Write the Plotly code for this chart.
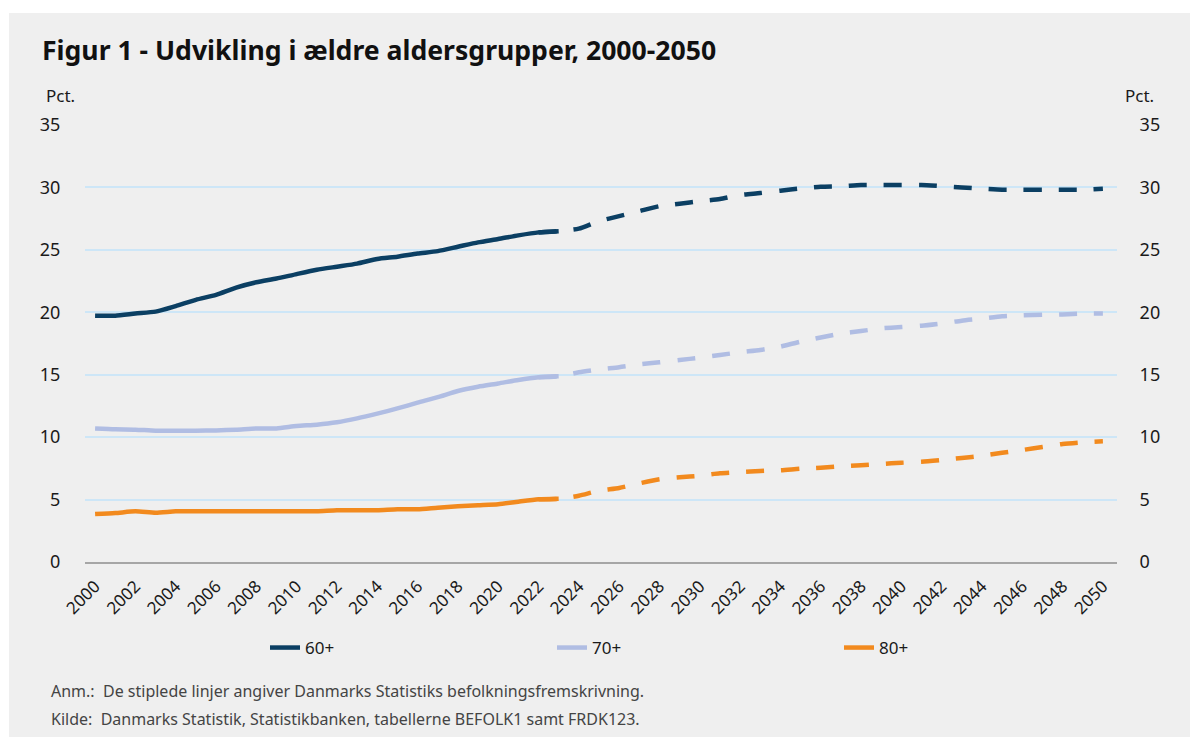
import plotly.graph_objects as go

# ---- data -------------------------------------------------------------
years_hist = list(range(2000, 2024))
years_proj = list(range(2022, 2051))

age60_hist = [19.73, 19.73, 19.9, 20.05, 20.5, 21.0, 21.4, 21.97, 22.4, 22.7,
              23.06, 23.4, 23.65, 23.9, 24.27, 24.45, 24.7, 24.9, 25.25, 25.6,
              25.87, 26.16, 26.4, 26.5]
age60_proj = [26.4, 26.5, 26.7, 27.3, 27.7, 28.1, 28.5, 28.7, 28.9, 29.07,
              29.4, 29.55, 29.74, 29.92, 30.06, 30.1, 30.2, 30.2, 30.2, 30.2,
              30.1, 30.0, 29.9, 29.82, 29.82, 29.82, 29.82, 29.82, 29.9]

age70_hist = [10.7, 10.63, 10.6, 10.52, 10.52, 10.52, 10.54, 10.6, 10.7, 10.7,
              10.89, 11.0, 11.19, 11.5, 11.88, 12.3, 12.76, 13.2, 13.7, 14.04,
              14.3, 14.58, 14.79, 14.87]
age70_proj = [14.79, 14.87, 15.19, 15.43, 15.6, 15.83, 15.99, 16.18, 16.36, 16.58,
              16.8, 16.98, 17.25, 17.65, 17.98, 18.29, 18.5, 18.71, 18.82, 18.93,
              19.11, 19.33, 19.49, 19.68, 19.76, 19.81, 19.83, 19.89, 19.9]

age80_hist = [3.84, 3.92, 4.06, 3.95, 4.06, 4.06, 4.06, 4.06, 4.06, 4.06,
              4.06, 4.06, 4.14, 4.14, 4.14, 4.22, 4.22, 4.35, 4.46, 4.54,
              4.62, 4.83, 5.02, 5.07]
age80_proj = [5.02, 5.05, 5.31, 5.71, 5.93, 6.3, 6.62, 6.78, 6.91, 7.1,
              7.2, 7.29, 7.34, 7.47, 7.55, 7.66, 7.74, 7.85, 7.95, 8.03,
              8.17, 8.33, 8.51, 8.75, 8.97, 9.21, 9.45, 9.59, 9.67]

series_names = ["60+", "70+", "80+"]
colors = ["#0b3f63", "#b0bde3", "#f28a1e"]

x_tickvals = list(range(2000, 2051, 2))
y_tickvals = [0, 5, 10, 15, 20, 25, 30, 35]

title_text = "Figur 1 - Udvikling i ældre aldersgrupper, 2000-2050"
note_text = "Anm.:  De stiplede linjer angiver Danmarks Statistiks befolkningsfremskrivning."
source_text = "Kilde:  Danmarks Statistik, Statistikbanken, tabellerne BEFOLK1 samt FRDK123."

# ---- figure -----------------------------------------------------------
FONT = "Noto Sans"
fig = go.Figure()

hist = [age60_hist, age70_hist, age80_hist]
proj = [age60_proj, age70_proj, age80_proj]

for name, col, h, p in zip(series_names, colors, hist, proj):
    fig.add_trace(go.Scatter(
        x=years_proj, y=p, mode="lines", showlegend=False,
        line=dict(color=col, width=4.5, dash="18px,17px", shape="spline", smoothing=0.6),
        hoverinfo="skip"))
for name, col, h, p in zip(series_names, colors, hist, proj):
    fig.add_trace(go.Scatter(
        x=years_hist, y=h, mode="lines", name=name,
        line=dict(color=col, width=4.5, shape="spline", smoothing=0.6)))

# invisible trace to activate right axis
fig.add_trace(go.Scatter(x=years_hist, y=age60_hist, yaxis="y2", mode="lines",
                         line=dict(width=0), opacity=0, showlegend=False,
                         hoverinfo="skip"))

fig.update_layout(
    width=1194, height=743,
    paper_bgcolor="white",
    plot_bgcolor="rgba(0,0,0,0)",
    margin=dict(l=85, r=77, t=125, b=181),
    font=dict(family=FONT, color="#1a1a1a"),
    xaxis=dict(
        range=[1999.5, 2050.7],
        tickvals=x_tickvals,
        tickangle=-45,
        tickfont=dict(size=17, color="#1a1a1a"),
        showgrid=False, zeroline=False,
        showline=True, linecolor="#a6a6a6", linewidth=1.5,
        ticks="outside", ticklen=6, tickcolor="rgba(0,0,0,0)",
    ),
    yaxis=dict(
        range=[0, 35], tickvals=y_tickvals,
        tickfont=dict(size=18, color="#1a1a1a"),
        showgrid=True, gridcolor="#cde6f7", gridwidth=1.5,
        zeroline=False,
        ticks="outside", ticklen=20, tickcolor="rgba(0,0,0,0)",
    ),
    yaxis2=dict(
        range=[0, 35], tickvals=y_tickvals, overlaying="y", side="right",
        tickfont=dict(size=18, color="#1a1a1a"),
        showgrid=False, zeroline=False,
        ticks="outside", ticklen=18, tickcolor="rgba(0,0,0,0)",
    ),
    legend=dict(
        orientation="h", xref="container", yref="container",
        x=265 / 1194, y=1 - 648 / 743, xanchor="left", yanchor="middle",
        entrywidth=242, entrywidthmode="pixels",
        font=dict(size=17, color="#1a1a1a"),
        bgcolor="rgba(0,0,0,0)",
    ),
    shapes=[dict(type="rect", xref="paper", yref="paper", layer="below",
                 x0=-76 / 1032, x1=1 + 73 / 1032,
                 y0=-(737 - 562) / 437, y1=1 + (125 - 13) / 437,
                 fillcolor="#efefef", line=dict(width=0))],
    annotations=[
        dict(text="<b>" + title_text + "</b>", xref="paper", yref="paper",
             x=-45 / 1032, y=1 + (125 - 50) / 437, xanchor="left", yanchor="middle",
             showarrow=False, font=dict(size=26.6, color="#111111", family=FONT)),
        dict(text="Pct.", xref="paper", yref="paper",
             x=-41 / 1032, y=1 + (125 - 95) / 437, xanchor="left", yanchor="middle",
             showarrow=False, font=dict(size=17, color="#1a1a1a")),
        dict(text="Pct.", xref="paper", yref="paper",
             x=1 + 6 / 1032, y=1 + (125 - 95) / 437, xanchor="left", yanchor="middle",
             showarrow=False, font=dict(size=17, color="#1a1a1a")),
        dict(text=note_text, xref="paper", yref="paper",
             x=-36 / 1032, y=-(691 - 562) / 437, xanchor="left", yanchor="middle",
             showarrow=False, font=dict(size=16, color="#444444")),
        dict(text=source_text, xref="paper", yref="paper",
             x=-36 / 1032, y=-(719 - 562) / 437, xanchor="left", yanchor="middle",
             showarrow=False, font=dict(size=16, color="#444444")),
    ],
)

fig.write_html("out.html", config={"displayModeBar": False},
               post_script="document.body.style.margin='0';")
